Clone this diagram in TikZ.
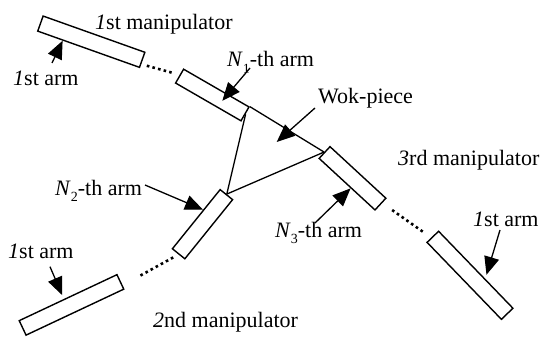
\documentclass[tikz,border=0pt]{standalone}
\usepackage{fontspec}
\setmainfont{Liberation Serif}
\newfontfamily\lblfont{Liberation Serif}
\usetikzlibrary{arrows.meta,calc}
% small lowered index for N_k
\newcommand\lowidx[1]{\raisebox{-0.3em}{\fontsize{14}{14}\selectfont#1}}
\begin{document}
\begin{tikzpicture}[x=1pt,y=-1pt,
  arm/.style={draw, line width=1.4pt, inner sep=0pt, minimum height=16pt, fill=white},
  lbl/.style={inner sep=0pt, anchor=base west, font=\lblfont\fontsize{22}{26}\selectfont},
  ptr/.style={line width=1.3pt, -{Triangle[length=18pt,width=15pt]}},
  dotline/.style={line width=2.6pt, dash pattern=on 2.6pt off 3.2pt},
  piece/.style={line width=1.3pt}]
\useasboundingbox (0,0) rectangle (548,339);

% arms (links) of the three manipulators
\node[arm, minimum width=108pt, rotate=-19.6] (A) at (91.3,41.7) {};
\node[arm, minimum width=75.5pt, rotate=-30]  (B) at (212.3,95) {};
\node[arm, minimum width=76pt,  rotate=-42.7] (C) at (352.5,178.3) {};
\node[arm, minimum width=107pt, rotate=-46]   (D) at (470,275.3) {};
\node[arm, minimum width=76pt,  rotate=51.1]  (E) at (202.5,224.2) {};
\node[arm, minimum width=108pt, rotate=25.2]  (F) at (71.5,304.9) {};

% omitted intermediate arms
\draw[dotline] ([shift={(4,5.7)}]A.east) -- ([shift={(-7.4,-3.2)}]B.west);
\draw[dotline] ([shift={(11.2,5.5)}]C.east) -- ([shift={(-7.5,-3.2)}]D.west);
\draw[dotline] ([shift={(-5,3.1)}]E.west) -- ([shift={(17.5,-5)}]F.east);

% wok-piece held by the end arms
\draw[piece] (B.north east) -- (C.west);
\draw[piece] (B.east) -- (E.east) -- (C.west);

% labels
\node[lbl] (m1)  at (95,30)    {\textit{1}st manipulator};
\node[lbl] (a1)  at (13,86)    {\textit{1}st arm};
\node[lbl] (n1)  at (227,66.7) {\textit{N}\lowidx{1}-th arm};
\node[lbl] (wok) at (318,104)  {Wok-piece};
\node[lbl] (m3)  at (398,166)  {\textit{3}rd manipulator};
\node[lbl] (n3)  at (275,237)  {\textit{N}\lowidx{3}-th arm};
\node[lbl] (a3)  at (473,226)  {\textit{1}st arm};
\node[lbl] (n2)  at (55,195)   {\textit{N}\lowidx{2}-th arm};
\node[lbl] (a2)  at (8,258.5)  {\textit{1}st arm};
\node[lbl] (m2)  at (153,327)  {\textit{2}nd manipulator};

% pointer tails and the point inside the wok-piece
\coordinate (ta1) at (52,63);
\coordinate (tn1) at (250,68);
\coordinate (two) at (315,108);
\coordinate (hwo) at (276.7,142);
\coordinate (tn3) at (315,223);
\coordinate (ta3) at (500,230);
\coordinate (tn2) at (145,185);
\coordinate (ta2) at (50,266.7);

% pointers
\draw[ptr] (ta1) -- ($(A.south west)!0.25!(A.south east)$);
\draw[ptr] (tn1) -- ($(B.west)!0.65!(B.east)$);
\draw[ptr] (two) -- (hwo);
\draw[ptr] (tn3) -- ($(C.south west)!0.57!(C.south east)$);
\draw[ptr, shorten >=4pt] (ta3) -- ($(D.north west)!0.62!(D.north east)$);
\draw[ptr] (tn2) -- ($(E.north west)!0.65!(E.north east)$);
\draw[ptr, shorten >=4pt] (ta2) -- ($(F.north west)!0.46!(F.north east)$);
\end{tikzpicture}
\end{document}
